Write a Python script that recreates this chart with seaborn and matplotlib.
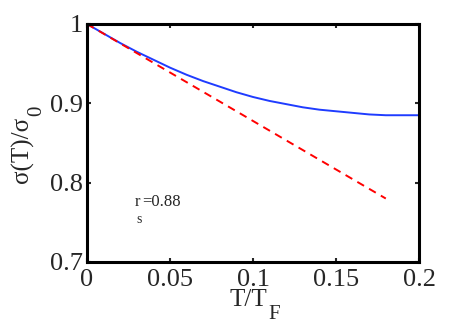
import matplotlib
matplotlib.use('Agg')
import matplotlib.pyplot as plt
import numpy as np
import pandas as pd
import seaborn as sns

# conductivity ratio vs reduced temperature
t_full = [0.00, 0.01, 0.02, 0.03, 0.04, 0.05, 0.06, 0.07, 0.08, 0.09, 0.10,
          0.11, 0.12, 0.13, 0.14, 0.15, 0.16, 0.17, 0.18, 0.19, 0.20]
sigma_full = [1.000, 0.988, 0.976, 0.965, 0.955, 0.945, 0.936, 0.928, 0.921,
              0.914, 0.908, 0.903, 0.899, 0.895, 0.892, 0.890, 0.888, 0.886,
              0.885, 0.885, 0.885]
# linear (low-T) approximation
t_lin = [0.00, 0.18]
sigma_lin = [1.000, 0.780]

x_ticks = [0, 0.05, 0.1, 0.15, 0.2]
x_ticklabels = ['0', '0.05', '0.1', '0.15', '0.2']
y_ticks = [0.7, 0.8, 0.9, 1.0]
y_ticklabels = ['0.7', '0.8', '0.9', '1']

sns.set_style('white')
plt.rcParams['font.family'] = ['Liberation Serif', 'DejaVu Serif']

fig = plt.figure(figsize=(4.63, 3.27), dpi=100)
W, H = 463, 327
ax = fig.add_axes([87 / W, 1 - 262 / H, 332 / W, 238 / H])

full = pd.DataFrame({'t': t_full, 'sigma': sigma_full})
lin = pd.DataFrame({'t': t_lin, 'sigma': sigma_lin})
sns.lineplot(data=full, x='t', y='sigma', ax=ax, color='#1f3cff', lw=1.4)
sns.lineplot(data=lin, x='t', y='sigma', ax=ax, color='#ff0000', lw=1.4,
             linestyle=(0, (4, 3)))

ax.set_xlim(0, 0.2)
ax.set_ylim(0.7, 1.0)
ax.set_xticks(x_ticks)
ax.set_xticklabels(x_ticklabels)
ax.set_yticks(y_ticks)
ax.set_yticklabels(y_ticklabels)
ax.tick_params(direction='in', length=3, width=1.5, labelsize=19,
               top=True, right=True, bottom=True, left=True)
ax.tick_params(axis='x', pad=5)
ax.tick_params(axis='y', pad=3)
for s in ax.spines.values():
    s.set_linewidth(2.2)
    s.set_color('black')
ax.set_xlabel('')
ax.set_ylabel('')

# axis labels with big, low subscripts as in the original
fig.text(267 / W, 1 - 289 / H, 'T/T', fontsize=18, ha='right', va='top')
fig.text(268 / W, 1 - 305 / H, 'F', fontsize=15, ha='left', va='top')
fig.text(22 / W, 1 - 183 / H, '\u03c3(T)/\u03c3', fontsize=18, rotation=90,
         ha='center', va='bottom')
fig.text(37 / W, 1 - 116 / H, '0', fontsize=15, rotation=90,
         ha='center', va='bottom')

ax.text(0.0290, 0.775, 'r', fontsize=12, ha='left', va='center')
ax.text(0.0298, 0.762, 's', fontsize=10, ha='left', va='top')
ax.text(0.0330, 0.775, '=0.88', fontsize=12, ha='left', va='center')

fig.savefig('out.png', dpi=100)
